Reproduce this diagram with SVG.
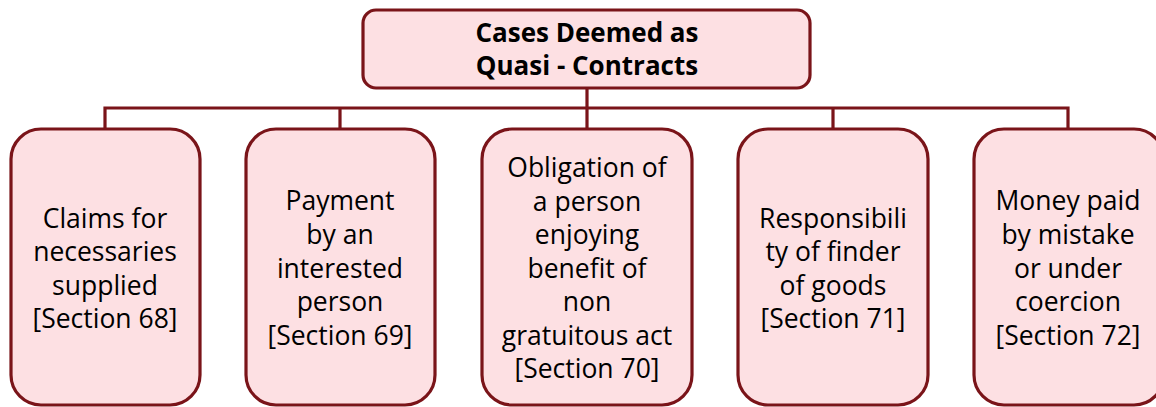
<svg xmlns="http://www.w3.org/2000/svg" width="1156" height="407" viewBox="0 0 1156 407">
<style>
.box{fill:#fde0e3;stroke:#7a1419;stroke-width:3.2}
.t{font-family:"Open Sans","Noto Sans","DejaVu Sans",sans-serif;font-size:26.5px;fill:#000;text-anchor:middle}
.b{font-weight:bold;font-size:26px}
.c{fill:none;stroke:#7a1419;stroke-width:3.2}
</style>
<rect width="1156" height="407" fill="#fff"/>
<g id="connectors">
<path class="c" d="M587,88 V108 M105,128 V108 H1068 V128 M340,108 V128 M587,108 V128 M833,108 V128"/>
</g>
<g id="root">
<rect class="box" x="363" y="10" width="447" height="78" rx="13"/>
<text class="t b" x="587" y="42">Cases Deemed as</text>
<text class="t b" x="587" y="75">Quasi - Contracts</text>
</g>
<g id="n68">
<rect class="box" x="11" y="129" width="189" height="276" rx="30"/>
<text class="t" x="105" y="228">Claims for</text>
<text class="t" x="105" y="261">necessaries</text>
<text class="t" x="105" y="295">supplied</text>
<text class="t" x="105" y="328">[Section 68]</text>
</g>
<g id="n69">
<rect class="box" x="246" y="129" width="189" height="276" rx="30"/>
<text class="t" x="340" y="210">Payment</text>
<text class="t" x="340" y="244">by an</text>
<text class="t" x="340" y="278">interested</text>
<text class="t" x="340" y="311">person</text>
<text class="t" x="340" y="345">[Section 69]</text>
</g>
<g id="n70">
<rect class="box" x="482" y="129" width="210" height="276" rx="30"/>
<text class="t" x="587" y="177">Obligation of</text>
<text class="t" x="587" y="211">a person</text>
<text class="t" x="587" y="244">enjoying</text>
<text class="t" x="587" y="278">benefit of</text>
<text class="t" x="587" y="311">non</text>
<text class="t" x="587" y="345">gratuitous act</text>
<text class="t" x="587" y="378">[Section 70]</text>
</g>
<g id="n71">
<rect class="box" x="738" y="129" width="190" height="276" rx="30"/>
<text class="t" x="833" y="228">Responsibili</text>
<text class="t" x="833" y="261">ty of finder</text>
<text class="t" x="833" y="295">of goods</text>
<text class="t" x="833" y="328">[Section 71]</text>
</g>
<g id="n72">
<rect class="box" x="974" y="129" width="190" height="276" rx="30"/>
<text class="t" x="1068" y="210">Money paid</text>
<text class="t" x="1068" y="244">by mistake</text>
<text class="t" x="1068" y="278">or under</text>
<text class="t" x="1068" y="311">coercion</text>
<text class="t" x="1068" y="345">[Section 72]</text>
</g>
</svg>
